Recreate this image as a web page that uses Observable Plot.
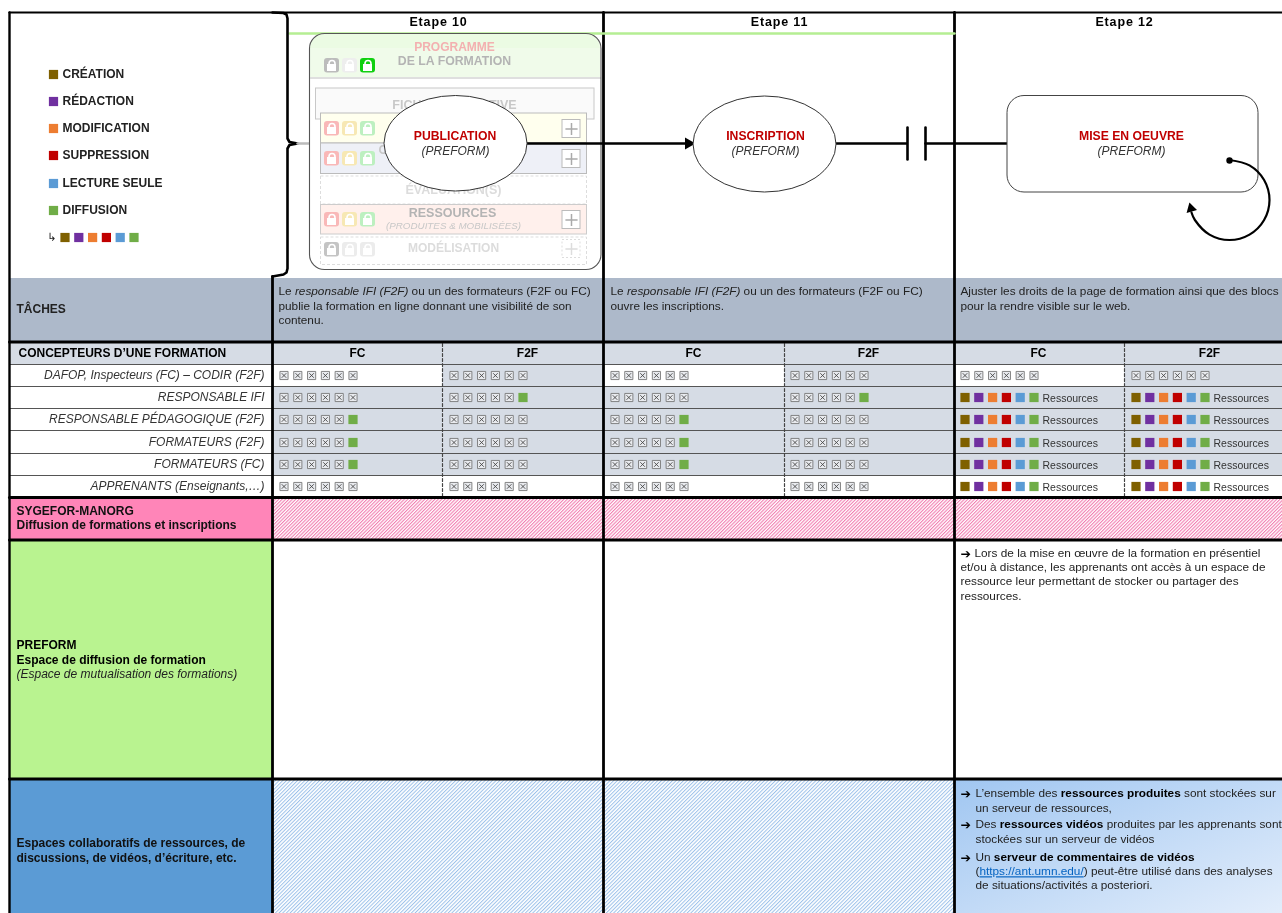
<!DOCTYPE html>
<html lang="fr"><head><meta charset="utf-8">
<script src="https://cdn.jsdelivr.net/npm/d3@7"></script>
<script src="https://cdn.jsdelivr.net/npm/@observablehq/plot@0.6"></script>
<style>html,body{margin:0;padding:0;background:#fff}svg{display:block;filter:blur(0.4px)}</style>
</head><body><div id="chart"></div>
<script>
// ---------- content ----------
const legendLabels = ["CRÉATION","RÉDACTION","MODIFICATION","SUPPRESSION","LECTURE SEULE","DIFFUSION"];
const actionColors = ["#7f6000","#7030a0","#ed7d31","#c00000","#5b9bd5","#70ad47"];
const stepNames = ["Etape 10","Etape 11","Etape 12"];
const modeNames = ["FC","F2F"];
const designersTitle = "CONCEPTEURS D’UNE FORMATION";
const roleLabels = ["DAFOP, Inspecteurs (FC) – CODIR (F2F)","RESPONSABLE IFI","RESPONSABLE PÉDAGOGIQUE (F2F)","FORMATEURS (F2F)","FORMATEURS (FC)","APPRENANTS (Enseignants,…)"];
// 0 = all crossed, 1 = crossed + diffusion, 2 = every right + Ressources
const step10FC  = [0,0,1,1,1,0];
const step10F2F = [0,1,0,0,0,0];
const step11FC  = [0,0,1,1,1,0];
const step11F2F = [0,1,0,0,0,0];
const step12FC  = [0,2,2,2,2,2];
const step12F2F = [0,2,2,2,2,2];
const shadedFC  = [0,1,1,1,1,0];
const shadedF2F = [1,1,1,1,1,0];
const taskLabel = "TÂCHES";
const task10 = ["Le __responsable IFI (F2F)__ ou un des formateurs (F2F ou FC)","publie la formation en ligne donnant une visibilité de son","contenu."];
const task11 = ["Le __responsable IFI (F2F)__ ou un des formateurs (F2F ou FC)","ouvre les inscriptions."];
const task12 = ["Ajuster les droits de la page de formation ainsi que des blocs","pour la rendre visible sur le web."];
const sygefor = ["SYGEFOR-MANORG","Diffusion de formations et inscriptions"];
const preform = ["**PREFORM**","**Espace de diffusion de formation**","__(Espace de mutualisation des formations)__"];
const espaces = ["Espaces collaboratifs de ressources, de","discussions, de vidéos, d’écriture, etc."];
const preformNote = ["Lors de la mise en œuvre de la formation en présentiel","et/ou à distance, les apprenants ont accès à un espace de","ressource leur permettant de stocker ou partager des","ressources."];
const espacesNote = ["L’ensemble des **ressources produites** sont stockées sur","un serveur de ressources,","Des **ressources vidéos** produites par les apprenants sont","stockées sur un serveur de vidéos","Un **serveur de commentaires de vidéos**","([https://ant.umn.edu/]) peut-être utilisé dans des analyses","de situations/activités a posteriori."];
const nodeNames = ["PUBLICATION","INSCRIPTION","MISE EN OEUVRE"];
const nodeTool = "(PREFORM)";
const panelTitles = ["DE LA FORMATION","FICHE DESCRIPTIVE","ÉVALUATION(S)","RESSOURCES","(PRODUITES & MOBILISÉES)","MODÉLISATION"];
const panelTop = "PROGRAMME";

// ---------- layout ----------
const W = 1282, H = 913, FONT = "Liberation Sans, Arial, sans-serif";
const stepEdges = [[272,442,603],[603,784,954],[954,1124,1282]];
const rowEdges = [364,386,408,430,453,475,497];
const rowMid = [375,397,419,442,464,486];
const stepMid = [438,779,1124];
const modeMid = [[357,527],[693,868],[1038,1209]];
const iconStart = [[279,449],[610,790],[960,1131]];
const iconStep = 13.8;
const legendY = [74,101,128,155,183,210];
const marks = [];
const box = (x1,y1,x2,y2,o) => Plot.rect([0],{x1,y1,x2,y2,...o});
const line = (pts,o) => Plot.line(pts,{x:d=>d[0],y:d=>d[1],stroke:"#000",strokeWidth:2.6,...o});
const inline = (s) => s.split(/(\*\*.+?\*\*|__.+?__|\[.+?\])/).filter(Boolean);
function rich(index,scales,values,dims,ctx,next){
  const g = next(index,scales,values,dims,ctx);
  d3.select(g).selectAll("text").each(function(){
    const el = d3.select(this), parts = inline(this.textContent);
    el.text(null);
    for (const p of parts){
      const t = el.append("tspan");
      if (p.startsWith("**")) t.attr("font-weight","bold").attr("fill","#000").text(p.slice(2,-2));
      else if (p.startsWith("__")) t.attr("font-style","italic").text(p.slice(2,-2));
      else if (p.startsWith("[")) t.attr("fill","#0563c1").attr("text-decoration","underline").text(p.slice(1,-1));
      else t.text(p);
    }
  });
  return g;
}
function spaced(index,scales,values,dims,ctx,next){
  const g = next(index,scales,values,dims,ctx);
  d3.select(g).selectAll("text").attr("letter-spacing","0.85");
  return g;
}
const txt = (lines,xs,ys,o={}) => Plot.text(lines,{
  x:(d,i)=>Array.isArray(xs)?xs[i]:xs, y:(d,i)=>Array.isArray(ys)?ys[i]:ys, text:d=>d,
  fontFamily:FONT,fontSize:11.8,fill:"#222",textAnchor:"start",lineAnchor:"middle",render:rich,...o});

// defs
marks.push(() => d3.create("svg:g").html(`<defs>
<pattern id="hatchPink" width="2.4" height="2.4" patternUnits="userSpaceOnUse" patternTransform="rotate(45)"><rect width="2.4" height="2.4" fill="#fff"/><rect width="1.1" height="2.4" fill="#f27fb2"/></pattern>
<pattern id="hatchBlue" width="2.6" height="2.6" patternUnits="userSpaceOnUse" patternTransform="rotate(45)"><rect width="2.6" height="2.6" fill="#fff"/><rect width="1" height="2.6" fill="#9cc1ea"/></pattern>
<linearGradient id="blueGrad" x1="0" y1="0" x2="1" y2="1"><stop offset="0" stop-color="#a0c6f1"/><stop offset="1" stop-color="#e2edfb"/></linearGradient>
</defs>`).node());

// backgrounds
marks.push(box(9,278,W,341,{fill:"#adb9ca"}));
marks.push(box(9,343,W,364,{fill:"#d6dce5"}));
marks.push(box(9,497,272,539,{fill:"#ff85b8"}));
marks.push(box(272,497,W,539,{fill:"url(#hatchPink)"}));
marks.push(box(9,539,272,778,{fill:"#b9f390"}));
marks.push(box(9,778,272,H,{fill:"#5b9bd5"}));
marks.push(box(272,778,954,H,{fill:"url(#hatchBlue)"}));
marks.push(box(954,778,W,H,{fill:"url(#blueGrad)"}));
stepEdges.forEach(([a,b,c]) => rowMid.forEach((_,r) => {
  if (shadedFC[r]) marks.push(box(a,rowEdges[r],b,rowEdges[r+1],{fill:"#d6dce5"}));
  if (shadedF2F[r]) marks.push(box(b,rowEdges[r],c,rowEdges[r+1],{fill:"#d6dce5"}));
}));

// rights icons
const steps = [[step10FC,step10F2F],[step11FC,step11F2F],[step12FC,step12F2F]];
const crossed = [], colored = [], resLabels = [];
steps.forEach((modes,s) => modes.forEach((vals,m) => vals.forEach((v,r) => {
  actionColors.forEach((c,k) => {
    const p = {x:iconStart[s][m]+iconStep*k+4.5, y:rowMid[r], c};
    if (v===2 || (v===1 && k===5)) colored.push(p); else crossed.push(p);
  });
  if (v===2) resLabels.push({x:iconStart[s][m]+82, y:rowMid[r]+1});
})));
marks.push(Plot.dot(crossed,{x:"x",y:"y",symbol:"square",r:4.6,fill:"#e9ebef",stroke:"#777",strokeWidth:0.9}));
marks.push(Plot.dot(crossed,{x:"x",y:"y",symbol:"times",r:2.2,stroke:"#444",strokeWidth:0.9}));
marks.push(Plot.dot(colored,{x:"x",y:"y",symbol:"square",r:5.2,fill:"c",stroke:"none"}));
marks.push(Plot.text(resLabels,{x:"x",y:"y",text:()=>"Ressources",fontFamily:FONT,fontSize:10.5,fill:"#333",textAnchor:"start"}));

// grid lines
rowEdges.slice(0,-1).forEach(y => marks.push(line([[9,y],[W,y]],{stroke:"#555",strokeWidth:1})));
stepEdges.forEach(e => marks.push(line([[e[1],343],[e[1],497]],{stroke:"#444",strokeWidth:1.2,strokeDasharray:"3,2"})));
[12,341.5,497,539.5,778.5].forEach(y => marks.push(line([[9,y],[W,y]],{strokeWidth:y===12?2.2:3})));
marks.push(line([[9,12],[9,H]],{strokeWidth:2.4}));
[272].forEach(x => marks.push(line([[x,276],[x,H]],{strokeWidth:2.8})));
[603,954].forEach(x => marks.push(line([[x,12],[x,H]],{strokeWidth:2.8})));
marks.push(line([[289,33],[954,33]],{stroke:"#b5ee93",strokeWidth:2.4}));
marks.push(line([[272,12],[283,12.5],[286,14],[287,18],[287,138],[289,141.5],[297,143],[289,144.5],[287,148],[287,268],[286,272],[283,274],[272,276]],{strokeWidth:2.6}));

// panel (faded)
marks.push(line([[297,143],[320,143]],{stroke:"#bbb",strokeWidth:2.4}));
const panelShadow = {stroke:"#c8c8c8",strokeWidth:1};
marks.push(box(309.5,33.5,601,269.5,{fill:"#fff",rx:15}));
marks.push(box(310,34,600,62,{fill:"#ebfbe3",rx:14}));
marks.push(box(310,48,600,77,{fill:"#f0fbea"}));
marks.push(line([[310,77.5],[600,77.5]],{stroke:"#d5d5d5",strokeWidth:1.4}));
marks.push(box(315.5,88,594,119,{fill:"#fafafa",...panelShadow}));
marks.push(box(320.5,113,586.5,143,{fill:"#ffffee",stroke:"#bbb",strokeWidth:1}));
marks.push(box(320.5,143,586.5,173.5,{fill:"#eef0f7",stroke:"#bbb",strokeWidth:1}));
marks.push(box(320.5,176,586.5,204,{fill:"#fff",stroke:"#ddd",strokeWidth:1,strokeDasharray:"3,2"}));
marks.push(box(320.5,204.5,586.5,234,{fill:"#fff0ec",stroke:"#ccc",strokeWidth:1}));
marks.push(box(320.5,237,586.5,264.5,{fill:"#fff",stroke:"#ddd",strokeWidth:1,strokeDasharray:"3,2"}));
marks.push(box(309.5,33.5,601,269.5,{fill:"none",stroke:"#555",strokeWidth:1.1,rx:15}));

// locks
const pale = ["#f9b8b8","#f7e8b4","#bdf0c0"];
const lockRows = [{y:58,f:["#bcbcbc","#eeeeee","#10d010"]},{y:121,f:pale},{y:151,f:pale},{y:212,f:pale},{y:242,f:["#c4c4c4","#ececec","#ececec"]}];
const lockX = [324,342,360], locks = [];
lockRows.forEach(r => r.f.forEach((f,i) => locks.push({x:lockX[i],y:r.y,f})));
marks.push(Plot.rect(locks,{x1:d=>d.x,x2:d=>d.x+15,y1:"y",y2:d=>d.y+14.5,fill:"f",rx:3}));
marks.push(Plot.dot(locks,{x:d=>d.x+7.5,y:d=>d.y+5,r:3,fill:"none",stroke:"#fff",strokeWidth:1.6}));
marks.push(Plot.rect(locks,{x1:d=>d.x+3,x2:d=>d.x+12,y1:d=>d.y+6,y2:d=>d.y+13,fill:"#fff"}));

// plus buttons
const plusRows = [119.5,149.5,210.5,239.5];
plusRows.forEach((y,i) => {
  marks.push(box(562,y,580,y+18,{fill:"#fff",stroke:i===3?"#ddd":"#bbb",strokeDasharray:i===3?"2,2":null,strokeWidth:1}));
  marks.push(Plot.dot([0],{x:571,y:y+9,symbol:"plus",r:4,stroke:i===3?"#ddd":"#aaa",strokeWidth:1.5}));
});

// panel text
const mid = {textAnchor:"middle",render:undefined};
marks.push(txt([panelTop],454,47,{...mid,fill:"#f3b0b0",fontWeight:"bold",fontSize:12}));
marks.push(txt([panelTitles[0]],454,61,{...mid,fill:"#b4b4b4",fontWeight:"bold",fontSize:12.3}));
marks.push(txt([panelTitles[1]],454,104,{...mid,fill:"#c8c8c8",fontWeight:"bold",fontSize:12.5}));
marks.push(txt(["C"],378,150,{fill:"#c8c8c8",fontWeight:"bold",fontSize:12,render:undefined}));
marks.push(txt([panelTitles[2]],453,189,{...mid,fill:"#dcdcdc",fontWeight:"bold",fontSize:12.5}));
marks.push(txt([panelTitles[3]],452,212,{...mid,fill:"#b4b4b4",fontWeight:"bold",fontSize:12.5}));
marks.push(txt([panelTitles[4]],453,225,{...mid,fill:"#c8c8c8",fontStyle:"italic",fontSize:9.8}));
marks.push(txt([panelTitles[5]],453,248,{...mid,fill:"#dcdcdc",fontWeight:"bold",fontSize:12}));

// process flow
marks.push(line([[527,143],[688,143]]));
marks.push(Plot.dot([0],{x:688,y:143,symbol:"triangle",rotate:90,r:4.5,fill:"#000"}));
marks.push(line([[836,143],[906,143]]));
marks.push(line([[907,127],[907,159]]));
marks.push(line([[925,127],[925,159]]));
marks.push(line([[925,143],[1007,143]]));
marks.push(box(384,95.5,527,191,{fill:"#fff",stroke:"#333",strokeWidth:1,rx:71.5,ry:47.7}));
marks.push(box(693,96,836,192,{fill:"#fff",stroke:"#333",strokeWidth:1,rx:71.5,ry:48}));
marks.push(box(1007,95.5,1258,192,{fill:"#fff",stroke:"#444",strokeWidth:1,rx:17}));
marks.push(txt(nodeNames,[454.5,765,1131],136,{...mid,fill:"#c00000",fontWeight:"bold",fontSize:12.2}));
marks.push(txt([nodeTool,nodeTool,nodeTool],[455,765,1131],151,{...mid,fill:"#333",fontStyle:"italic",fontSize:12}));
marks.push(line([[1229,159.5],[1249,164.9],[1263.6,179.5],[1269,199.5],[1263.6,219.5],[1249,234.1],[1229,239.5],[1209,234.1],[1194.4,219.5],[1191,212]],{curve:"catmull-rom",strokeWidth:2.2}));
marks.push(Plot.dot([0],{x:1229,y:160,r:3.2,fill:"#000"}));
marks.push(Plot.dot([0],{x:1190.5,y:208,symbol:"triangle",rotate:-15,r:4,fill:"#000"}));

// legend
marks.push(Plot.dot(legendLabels,{x:53,y:(d,i)=>legendY[i],symbol:"square",r:5.2,fill:(d,i)=>actionColors[i]}));
marks.push(txt(legendLabels,62,legendY,{fontWeight:"bold",fontSize:12,fill:"#222",render:undefined}));
marks.push(txt(["↳"],47,237,{fill:"#222",fontSize:11,fontFamily:"DejaVu Sans",render:undefined}));
marks.push(Plot.dot(actionColors,{x:(d,i)=>64.5+iconStep*i,y:237,symbol:"square",r:5.2,fill:d=>d}));

// headers
marks.push(txt(stepNames,stepMid,21,{textAnchor:"middle",render:spaced,fill:"#000",fontWeight:"bold",fontSize:12.5}));
marks.push(txt([designersTitle],18,353,{fontWeight:"bold",fontSize:12,fill:"#000",render:undefined}));
modeMid.forEach(m => marks.push(txt(modeNames,m,353,{...mid,fontWeight:"bold",fontSize:12,fill:"#000"})));
marks.push(txt(roleLabels,264,rowMid,{textAnchor:"end",fontStyle:"italic",fontSize:12,fill:"#333",render:undefined}));
marks.push(txt([taskLabel],16,309,{fontWeight:"bold",fontSize:12,fill:"#222",render:undefined}));
const taskY = [291,306,320];
marks.push(txt(task10,278,taskY));
marks.push(txt(task11,610,taskY));
marks.push(txt(task12,960,taskY));
marks.push(txt(sygefor,16,[511,525],{fontWeight:"bold",fontSize:12,fill:"#111",render:undefined}));
marks.push(txt(preform,16,[645,660,674],{fontSize:12,fill:"#222"}));
marks.push(txt(espaces,16,[843,858],{fontWeight:"bold",fontSize:12,fill:"#111",render:undefined}));
marks.push(txt(preformNote,[974,960,960,960],[553,567,581,596]));
marks.push(txt(["➔"],960,553,{fontFamily:"DejaVu Sans",fontWeight:"bold",fill:"#000",fontSize:12.5,render:undefined}));
marks.push(txt(espacesNote,975,[793,808,824,839,857,871,885]));
marks.push(txt(["➔","➔","➔"],960,[793,824,857],{fontFamily:"DejaVu Sans",fontWeight:"bold",fill:"#000",fontSize:12.5,render:undefined}));

document.getElementById("chart").append(Plot.plot({
  width:W,height:H,margin:0,
  x:{domain:[0,W],range:[0,W],axis:null},
  y:{domain:[0,H],range:[0,H],axis:null},
  color:{type:"identity"},
  style:{background:"#fff",fontFamily:FONT},
  marks
}));
</script></body></html>
